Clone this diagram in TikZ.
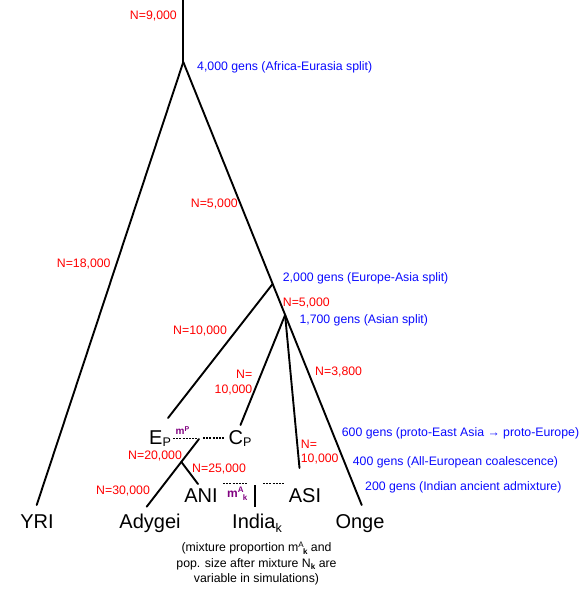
\documentclass[tikz,border=0pt]{standalone}
\usepackage{fontspec}
\setmainfont{Liberation Sans}
\definecolor{gblue}{RGB}{10,10,255}
\definecolor{nred}{RGB}{255,0,0}
\definecolor{mpurple}{RGB}{128,0,128}
\newcommand\bigsub[1]{\raisebox{-2.2pt}{\fontsize{12.5}{14}\selectfont #1}}
\newcommand\mysupsub[3]{\mbox{\raisebox{#3}{#1}\kern-0.06em\raisebox{-2.8pt}{#2}}}
\tikzset{
  lbl/.style={font=\fontsize{12.3}{14}\selectfont, inner sep=0pt},
  nlab/.style={lbl, text=nred},
  glab/.style={lbl, text=gblue},
  biglab/.style={font=\fontsize{20}{24}\selectfont, inner sep=0pt},
  mlab/.style={inner sep=0pt, text=mpurple, font=\bfseries\fontsize{10}{12}\selectfont},
  branch/.style={line width=1.9pt, line cap=round},
  mixline/.style={line width=1.5pt, dash pattern=on 2pt off 1.2pt},
}
\begin{document}
\begin{tikzpicture}[x=1pt,y=-1pt]
\useasboundingbox (0,0) rectangle (585,600);
% branch points
\coordinate (root) at (183.3,0);
\coordinate (afr) at (183.3,62);
\coordinate (yri) at (36.7,505);
\coordinate (onge) at (361.7,505);
\coordinate (eas) at (272.6,284);
\coordinate (as) at (285.1,315);
\coordinate (ep) at (168,418);
\coordinate (cp) at (240.5,425);
\coordinate (asi) at (299.5,468);
\coordinate (adm) at (199,439);
\coordinate (ady) at (146.7,506.7);
\coordinate (anib) at (181.4,462);
\coordinate (ani) at (198,484);
\coordinate (ind1) at (255,485);
\coordinate (ind2) at (255,507);
\coordinate (d1a) at (173,438.5);
\coordinate (d1b) at (196.5,438.5);
\coordinate (d2a) at (203,438);
\coordinate (d2b) at (225,438);
\coordinate (d3a) at (223,483.3);
\coordinate (d3b) at (248,483.3);
\coordinate (d4a) at (263,483.3);
\coordinate (d4b) at (285,483.3);
% branches
\draw[branch] (root) -- (afr);
\draw[branch] (afr) -- (yri);
\draw[branch] (afr) -- (onge);
\draw[branch] (eas) -- (ep);
\draw[branch] (as) -- (cp);
\draw[branch] (as) -- (asi);
\draw[branch] (adm) -- (ady);
\draw[branch] (anib) -- (ani);
\draw[line width=2.5pt] (ind1) -- (ind2);
\draw[mixline] (d1a) -- (d1b);
\draw[mixline] (d2a) -- (d2b);
\draw[mixline] (d3a) -- (d3b);
\draw[mixline] (d4a) -- (d4b);
% generation labels
\node[glab, anchor=base west] (g4000) at (197,70) {4,000 gens (Africa-Eurasia split)};
\node[glab, anchor=base west] (g2000) at (282.7,281) {2,000 gens (Europe-Asia split)};
\node[glab, anchor=base west] (g1700) at (299.3,323.3) {1,700 gens (Asian split)};
\node[glab, anchor=base west] (g600) at (341.7,436.6) {600 gens (proto-East Asia → proto-Europe)};
\node[glab, anchor=base west] (g400) at (352.7,465.3) {400 gens (All-European coalescence)};
\node[glab, anchor=base west] (g200) at (365,490.3) {200 gens (Indian ancient admixture)};
% population sizes
\node[nlab, anchor=base east] (n9) at (177,19.8) {N=9,000};
\node[nlab, anchor=base west] (n5a) at (190.7,207.3) {N=5,000};
\node[nlab, anchor=base west] (n18) at (56.7,267.8) {N=18,000};
\node[nlab, anchor=base west] (n5b) at (282.7,306) {N=5,000};
\node[nlab, anchor=base west] (n10a) at (173,334.3) {N=10,000};
\node[nlab, anchor=base east] (n10b1) at (252.5,378.3) {N=};
\node[nlab, anchor=base east] (n10b2) at (252.5,393) {10,000};
\node[nlab, anchor=base west] (n38) at (315,375.3) {N=3,800};
\node[nlab, anchor=base west] (n10c1) at (300.7,448) {N=};
\node[nlab, anchor=base west] (n10c2) at (300.7,462) {10,000};
\node[nlab, anchor=base west] (n20) at (128,459.3) {N=20,000};
\node[nlab, anchor=base west] (n25) at (192,472.5) {N=25,000};
\node[nlab, anchor=base west] (n30) at (96,494) {N=30,000};
% populations
\node[biglab, anchor=base] (yril) at (37,528) {YRI};
\node[biglab, anchor=base] (adyl) at (150,528) {Adygei};
\node[biglab, anchor=base] (indl) at (257,528.3) {India\raisebox{-4.6pt}{\fontsize{12.5}{14}\selectfont k}};
\node[biglab, anchor=base] (ongel) at (360,528) {Onge};
\node[biglab, anchor=base] (anil) at (201,502) {ANI};
\node[biglab, anchor=base] (asil) at (305,502) {ASI};
\node[biglab, anchor=base] (epl) at (160,444) {E\bigsub{P}};
\node[biglab, anchor=base] (cpl) at (240,444) {C\bigsub{P}};
% admixture proportions
\node[mlab, anchor=base west] (mp) at (175.5,434.5) {m\raisebox{3.3pt}{\fontsize{7}{8}\selectfont P}};
\node[mlab, anchor=base west, font=\bfseries\fontsize{12}{14}\selectfont] (mak) at (227,497.3) {m\mysupsub{\fontsize{8}{9}\selectfont A}{\fontsize{8}{9}\selectfont k}{5pt}};
% caption
\node[lbl, anchor=base] (cap1) at (256.5,551.5) {(mixture proportion m\mysupsub{\fontsize{8}{9}\selectfont A}{\bfseries\fontsize{8}{9}\selectfont k}{4.5pt} and};
\node[lbl, anchor=base] (cap2) at (256.5,567) {pop. size after mixture N\raisebox{-2.6pt}{\bfseries\fontsize{8}{9}\selectfont k} are};
\node[lbl, anchor=base] (cap3) at (256.5,582.3) {variable in simulations)};
\end{tikzpicture}
\end{document}
